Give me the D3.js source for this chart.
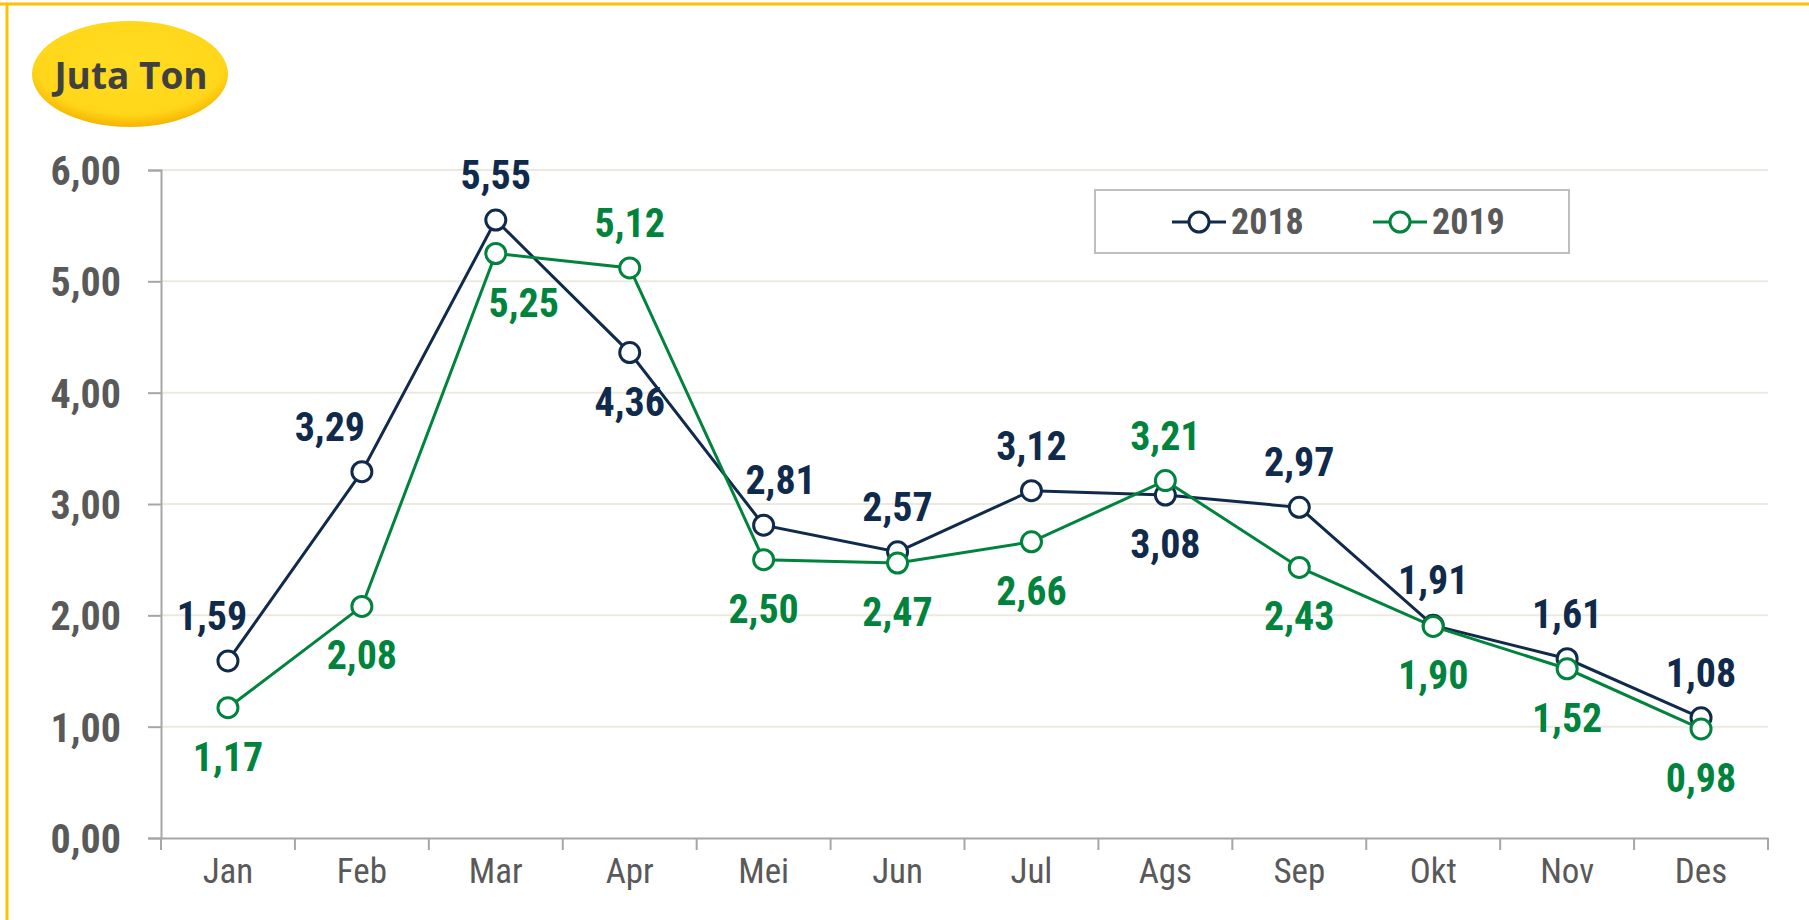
<!DOCTYPE html>
<html><head><meta charset="utf-8">
<script src="https://cdn.jsdelivr.net/npm/d3@7"></script>
<style>
html,body{margin:0;padding:0;background:#fff;}
svg text{font-family:"Liberation Sans Narrow","Arial Narrow","Roboto Condensed","Liberation Sans",sans-serif;}
</style></head>
<body><svg id="c" width="1809" height="920"></svg>
<script>
const months = ["Jan","Feb","Mar","Apr","Mei","Jun","Jul","Ags","Sep","Okt","Nov","Des"];
const values2018 = [1.59,3.29,5.55,4.36,2.81,2.57,3.12,3.08,2.97,1.91,1.61,1.08];
const values2019 = [1.17,2.08,5.25,5.12,2.50,2.47,2.66,3.21,2.43,1.90,1.52,0.98];
const labelPos2018 = ["up","up","up","down","up","up","up","down","up","up","up","up"];
const labelPos2019 = ["down","down","down","up","down","down","down","up","down","down","down","down"];
const yTicks = [0,1,2,3,4,5,6];
const seriesNames = ["2018","2019"];

// label nudges (layout only, pixels)
const labelNudge2018 = [-16,-32,0,0,17,0,0,0,0,0,0,0];
const labelNudge2019 = [0,0,28,0,0,0,0,0,0,0,0,0];

const svg = d3.select("#c");
const fmt = v => d3.format(".2f")(v).replace(".", ",");

// frame
svg.append("line").attr("x1",0).attr("x2",1809).attr("y1",4).attr("y2",4).attr("stroke","#FFC000").attr("stroke-width",3);
svg.append("line").attr("x1",7).attr("x2",7).attr("y1",3).attr("y2",920).attr("stroke","#FFC000").attr("stroke-width",3);

// badge
const defs = svg.append("defs");
const g1 = defs.append("radialGradient").attr("id","badge").attr("cx","50%").attr("cy","40%").attr("r","60%");
g1.append("stop").attr("offset","0%").attr("stop-color","#FFDD22");
g1.append("stop").attr("offset","80%").attr("stop-color","#FFD61A");
g1.append("stop").attr("offset","100%").attr("stop-color","#F5B400");
svg.append("ellipse").attr("cx",130).attr("cy",74).attr("rx",98).attr("ry",53).attr("fill","url(#badge)");
svg.append("text").attr("x",131).attr("y",89).attr("text-anchor","middle")
  .style("font-family","'Open Sans','Lato',sans-serif").attr("font-weight","bold").attr("font-size",37).attr("fill","#404040").text("Juta Ton");

const x = d3.scaleBand().domain(months).range([161,1768]);
const y = d3.scaleLinear().domain([0,6]).range([838,170]);

// gridlines
svg.append("g").selectAll("line").data(yTicks.filter(d=>d>0)).join("line")
  .attr("x1",161).attr("x2",1768).attr("y1",d=>y(d)).attr("y2",d=>y(d))
  .attr("stroke","#ECEAE0").attr("stroke-width",2);

// y axis
const ya = svg.append("g").attr("transform","translate(161,0)")
  .call(d3.axisLeft(y).tickValues(yTicks).tickFormat(fmt).tickSize(13).tickPadding(27));
ya.select(".domain").attr("stroke","#A6A6A6").attr("stroke-width",2);
ya.selectAll(".tick line").attr("stroke","#A6A6A6").attr("stroke-width",2);
ya.selectAll("text").attr("font-size",40).attr("font-weight","bold").attr("fill","#595959").attr("dy","0.36em");

// x axis
const xa = svg.append("g").attr("transform","translate(0,838)")
  .call(d3.axisBottom(x).tickSize(0).tickPadding(20));
xa.select(".domain").attr("stroke","#A6A6A6").attr("stroke-width",2);
xa.selectAll("text").attr("font-size",35).attr("fill","#595959").attr("dy","0.71em");
const bounds = months.map(m => x(m)).concat([x.range()[1]]);
svg.append("g").selectAll("line").data(bounds).join("line")
  .attr("x1",d=>d).attr("x2",d=>d).attr("y1",838).attr("y2",850)
  .attr("stroke","#A6A6A6").attr("stroke-width",2);

const cx = m => x(m) + x.bandwidth()/2;
const series = [
  {name:seriesNames[0], vals:values2018, pos:labelPos2018, nudge:labelNudge2018, color:"#102A4C"},
  {name:seriesNames[1], vals:values2019, pos:labelPos2019, nudge:labelNudge2019, color:"#00843D"}
];
const line = d3.line().x((d,i)=>cx(months[i])).y(d=>y(d));

series.forEach(s=>{
  svg.append("path").datum(s.vals).attr("d",line).attr("fill","none").attr("stroke",s.color).attr("stroke-width",3);
});
series.forEach(s=>{
  svg.append("g").selectAll("circle").data(s.vals).join("circle")
    .attr("cx",(d,i)=>cx(months[i])).attr("cy",d=>y(d)).attr("r",10)
    .attr("fill","#fff").attr("stroke",s.color).attr("stroke-width",3);
});
series.forEach(s=>{
  svg.append("g").selectAll("text").data(s.vals).join("text")
    .attr("x",(d,i)=>cx(months[i]) + s.nudge[i])
    .attr("y",(d,i)=> s.pos[i]==="up" ? y(d)-31 : y(d)+63)
    .attr("text-anchor","middle").attr("font-size",40).attr("font-weight","bold")
    .attr("fill",s.color).text(d=>fmt(d));
});

// legend
const lg = svg.append("g");
lg.append("rect").attr("x",1095).attr("y",190).attr("width",474).attr("height",63)
  .attr("fill","#fff").attr("stroke","#BFBFBF").attr("stroke-width",2);
const legX = [1172,1373];
series.forEach((s,i)=>{
  const x0 = legX[i];
  lg.append("line").attr("x1",x0).attr("x2",x0+54).attr("y1",222).attr("y2",222).attr("stroke",s.color).attr("stroke-width",3);
  lg.append("circle").attr("cx",x0+27).attr("cy",222).attr("r",10).attr("fill","#fff").attr("stroke",s.color).attr("stroke-width",3);
  lg.append("text").attr("x",x0+59).attr("y",234).attr("font-size",36).attr("font-weight","bold").attr("fill","#595959").text(s.name);
});
</script></body></html>
